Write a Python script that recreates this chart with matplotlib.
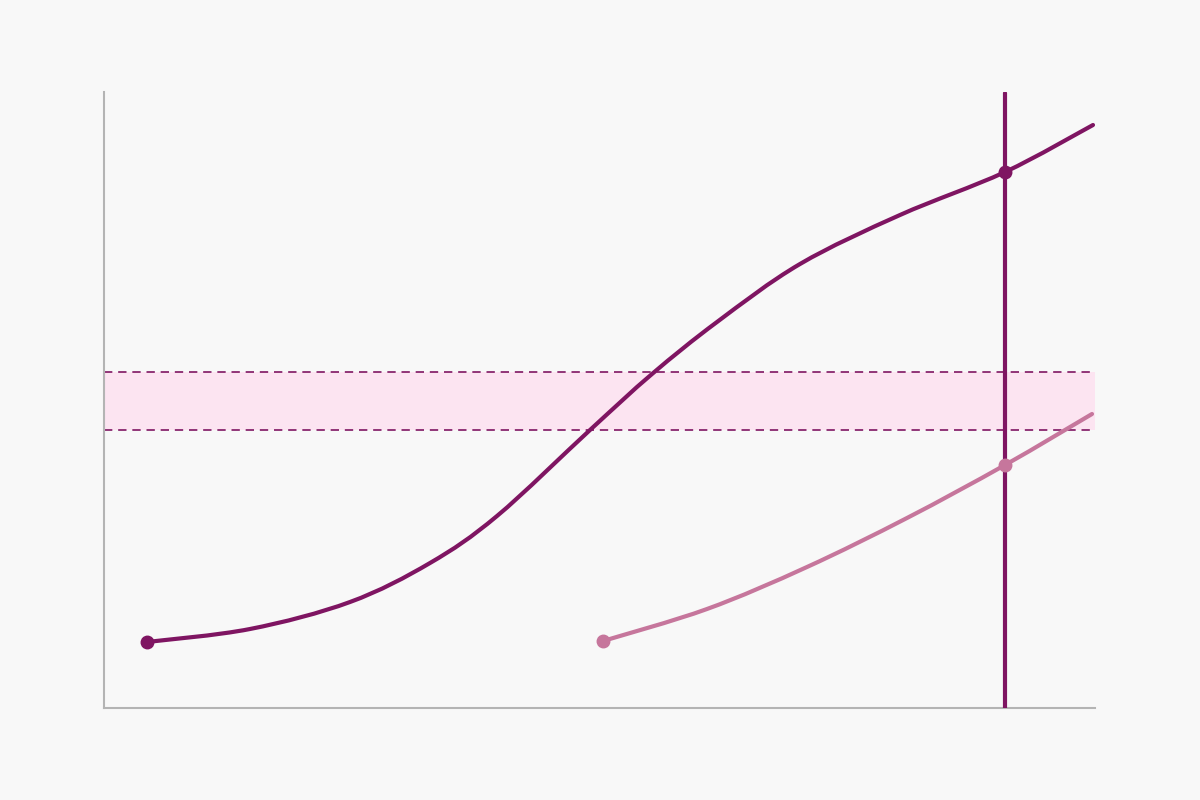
import matplotlib
matplotlib.use("Agg")
import matplotlib.pyplot as plt
import numpy as np
from matplotlib.path import Path
from matplotlib.patches import PathPatch

# Values (x: 0..99, y: 0..62, arbitrary units)
main_x = [4.3, 14.6, 24.6, 32.6, 39.3, 48.6, 54.8, 61.3, 69.6, 79.6, 90.1, 98.9]
main_y = [6.6, 7.9, 10.6, 14.5, 19.2, 27.8, 33.4, 38.6, 44.4, 49.3, 53.6, 58.3]

second_x = [49.9, 60.3, 70.3, 80.3, 90.1, 98.8]
second_y = [6.7, 9.9, 14.1, 19.0, 24.3, 29.4]

cursor_x = 90.1
main_marks_x = [4.3, 90.1]
main_marks_y = [6.6, 53.6]
second_marks_x = [49.9, 90.1]
second_marks_y = [6.7, 24.3]

band_low, band_high = 27.8, 33.6

DARK = "#7f1562"
LIGHT = "#c6769c"
BAND = "#fce4f1"
BG = "#f8f8f8"


def smooth_path(xs, ys):
    # Catmull-Rom through the read points, handed to matplotlib as cubic Beziers
    pts = np.column_stack([xs, ys])
    verts = [pts[0]]
    codes = [Path.MOVETO]
    for i in range(len(pts) - 1):
        p0 = pts[max(i - 1, 0)]
        p1, p2 = pts[i], pts[i + 1]
        p3 = pts[min(i + 2, len(pts) - 1)]
        verts += [p1 + (p2 - p0) / 6, p2 - (p3 - p1) / 6, p2]
        codes += [Path.CURVE4] * 3
    return Path(verts, codes)


fig = plt.figure(figsize=(12, 8), dpi=100, facecolor=BG)
ax = fig.add_axes([104 / 1200, 92 / 800, 991 / 1200, 616 / 800], facecolor=BG)

# target band
ax.axhspan(band_low, band_high, color=BAND, zorder=1, lw=0)
ax.axhline(band_low, color=DARK, lw=1.2, ls=(0, (5, 3.5)), zorder=2)
ax.axhline(band_high, color=DARK, lw=1.2, ls=(0, (5, 3.5)), zorder=2)

for xs, ys, col in ((main_x, main_y, DARK), (second_x, second_y, LIGHT)):
    ax.add_patch(PathPatch(smooth_path(xs, ys), facecolor="none", edgecolor=col,
                           lw=3, capstyle="round", joinstyle="round", zorder=3))

ax.axvline(cursor_x, ymin=0, ymax=0.998, color=DARK, lw=3,
           solid_capstyle="round", zorder=4)

ax.plot(main_marks_x, main_marks_y, "o", color=DARK, ms=9, zorder=5)
ax.plot(second_marks_x, second_marks_y, "o", color=LIGHT, ms=9, zorder=5)

ax.set_xlim(0, 99.1)
ax.set_ylim(0, 61.6)
ax.set_xticks([])
ax.set_yticks([])
for side in ("top", "right"):
    ax.spines[side].set_visible(False)
for side in ("left", "bottom"):
    ax.spines[side].set_color("#b4b4b4")
    ax.spines[side].set_linewidth(1.5)

fig.savefig("out.png", dpi=100, facecolor=BG)
